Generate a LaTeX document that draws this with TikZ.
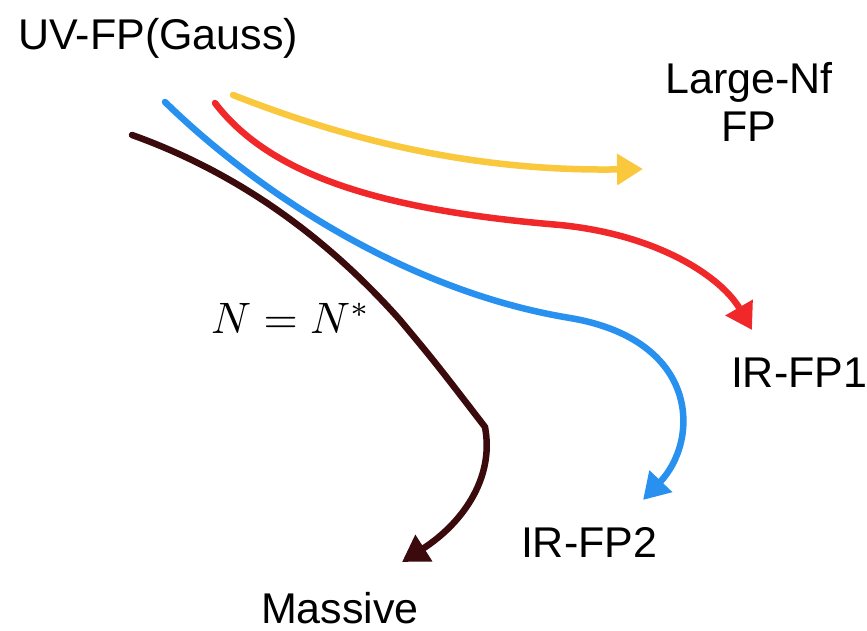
\documentclass[tikz,border=0pt]{standalone}
\usepackage{graphicx}
\usepackage{fontspec}
\setmainfont{Liberation Sans}
\usetikzlibrary{arrows.meta}
\definecolor{cyellow}{RGB}{249,200,60}
\definecolor{cred}{RGB}{240,40,42}
\definecolor{cblue}{RGB}{40,145,240}
\definecolor{cbrown}{RGB}{58,10,12}
\tikzset{
  flow/.style={line width=6.5pt, line cap=round, line join=round,
    -{Triangle[length=26pt,width=30pt]}},
  lbl/.style={inner sep=0pt, outer sep=0pt, anchor=base west,
    font=\fontsize{43}{48}\selectfont},
}
\begin{document}
\begin{tikzpicture}[x=1pt,y=-1pt]
\useasboundingbox (0,0) rectangle (867,631);
\fill[white] (0,0) rectangle (867,631);
% labels
\node[lbl] (uv) at (18.5,50) {UV-FP(Gauss)};
\node[lbl, anchor=base, align=center] (large) at (749,142) {Large-Nf\\FP};
\node[lbl] (ir1) at (731,387) {IR-FP1};
\node[lbl] (ir2) at (521,557) {IR-FP2};
\node[lbl] (mass) at (261,623) {Massive};
\node[inner sep=0pt, anchor=base west] (nn) at (211,333) {\scalebox{4.4}{$N = N^{*}$}};
% start and end points of the flows
\coordinate (ys) at (233,95);
\coordinate (ye) at (643,169);
\coordinate (rs) at (215,103);
\coordinate (rm) at (560,225);
\coordinate (re) at (752,330);
\coordinate (bs) at (165,102);
\coordinate (bm) at (570,318);
\coordinate (be) at (643,500);
\coordinate (ks) at (132,135);
\coordinate (km) at (400,320);
\coordinate (kc) at (485,427);
\coordinate (ke) at (402,562);
% flows
\draw[flow, cyellow] (ys) .. controls (330,133) and (460,172) .. (ye);
\draw[flow, cred] (rs) .. controls (270,175) and (380,210) .. (rm)
   .. controls (660,235) and (722,278) .. (re);
\draw[flow, cblue] (bs) .. controls (250,185) and (400,290) .. (bm)
   .. controls (700,340) and (700,440) .. (be);
\draw[flow, cbrown] (ks) .. controls (230,170) and (320,230) .. (km)
   .. controls (435,362) .. (kc) .. controls (495,480) and (460,525) .. (ke);
\end{tikzpicture}
\end{document}
